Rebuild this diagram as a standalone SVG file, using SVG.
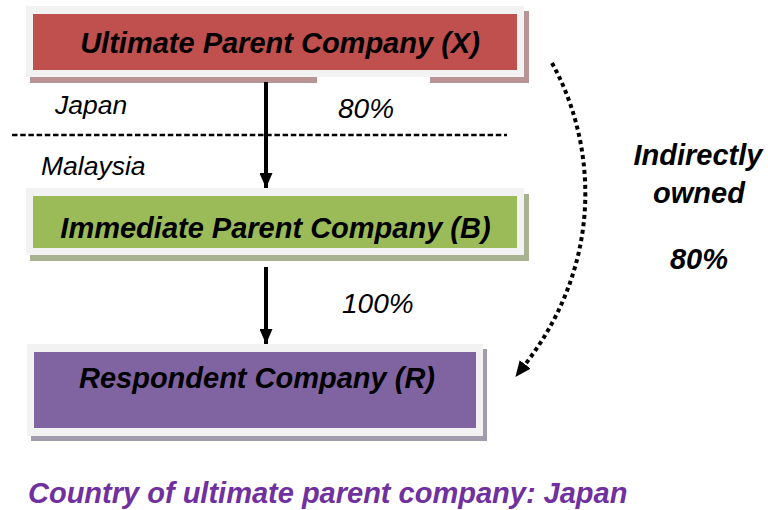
<svg xmlns="http://www.w3.org/2000/svg" width="768" height="510" viewBox="0 0 768 510">
<style>
.box{font-family:"Liberation Sans",Arial,sans-serif;font-weight:bold;font-style:italic;font-size:29px;fill:#000;text-anchor:middle}
.lbl{font-family:"Liberation Sans",Arial,sans-serif;font-style:italic;fill:#000}
.side{font-family:"Liberation Sans",Arial,sans-serif;font-weight:bold;font-style:italic;font-size:29px;fill:#000;text-anchor:middle}
.frame{fill:#f2f2f2}
.conn{stroke:#000;stroke-width:4;fill:none}
</style>
<defs>
<marker id="ah" viewBox="0 0 15 13" refX="15" refY="6.5" markerUnits="userSpaceOnUse" markerWidth="15" markerHeight="13" orient="auto">
<path d="M0,0 L15,6.5 L0,13 Z" fill="#000"/>
</marker>
<marker id="ah2" viewBox="0 0 16 14" refX="2" refY="7" markerUnits="userSpaceOnUse" markerWidth="16" markerHeight="14" orient="auto">
<path d="M0,0 L16,7 L0,14 Z" fill="#000"/>
</marker>
</defs>
<rect width="768" height="510" fill="#fff"/>

<g id="nodeX">
<rect x="30" y="11" width="499" height="72" fill="#b99494"/>
<rect class="frame" x="26" y="6" width="498" height="71"/>
<rect x="33" y="14" width="484" height="56" fill="#c0504d"/>
<text class="box" x="280" y="53">Ultimate Parent Company (X)</text>
</g>

<g id="nodeB">
<rect x="30" y="194" width="499" height="67" fill="#a8b291"/>
<rect class="frame" x="26" y="188" width="498" height="67"/>
<rect x="33" y="196" width="484" height="52" fill="#9bbb59"/>
<text class="box" x="275.5" y="238">Immediate Parent Company (B)</text>
</g>

<g id="nodeR">
<rect x="31" y="349" width="456" height="92" fill="#a29bae"/>
<rect class="frame" x="27" y="344" width="456" height="92"/>
<rect x="34" y="352" width="442" height="76" fill="#8064a2"/>
<text class="box" x="257" y="388">Respondent Company (R)</text>
</g>

<g id="labels">
<rect x="317" y="77" width="113" height="7" fill="#fff"/>
<text class="lbl" x="55" y="114" font-size="26.5">Japan</text>
<text class="lbl" x="41" y="175" font-size="26.5">Malaysia</text>
<text class="lbl" x="338" y="118" font-size="28">80%</text>
<text class="lbl" x="342" y="313" font-size="28">100%</text>
<text class="side" x="698" y="165">Indirectly</text>
<text class="side" x="699" y="203">owned</text>
<text class="side" x="699" y="269">80%</text>
<text x="28" y="503" font-family="Liberation Sans, Arial, sans-serif" font-weight="bold" font-style="italic" font-size="29" fill="#7030a0">Country of ultimate parent company: Japan</text>
</g>

<g id="connectors">
<line x1="12" y1="135" x2="507" y2="135" stroke="#000" stroke-width="2.3" stroke-dasharray="5.5 2.7"/>
<line class="conn" x1="266" y1="82" x2="266" y2="188" marker-end="url(#ah)"/>
<line class="conn" x1="266" y1="267" x2="266" y2="344" marker-end="url(#ah)"/>
<path class="conn" d="M552,63 C592,135 610,255 524,366" stroke-dasharray="4 3.5" marker-end="url(#ah2)"/>
</g>
</svg>
